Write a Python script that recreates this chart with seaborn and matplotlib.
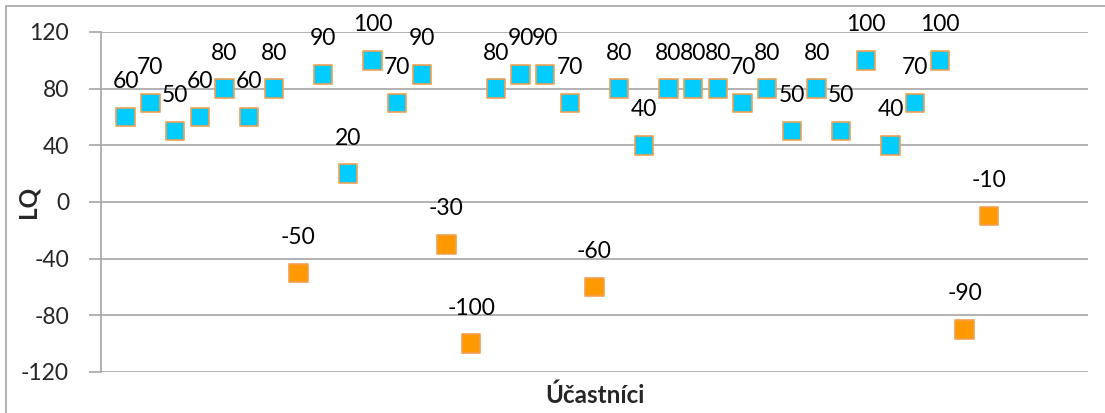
import numpy as np
import pandas as pd
import matplotlib
matplotlib.use("Agg")
import matplotlib.pyplot as plt
import seaborn as sns

# LQ score for each participant
participants = list(range(1, 37))
lq_values = [60, 70, 50, 60, 80, 60, 80, -50, 90, 20, 100, 70, 90, -30, -100,
             80, 90, 90, 70, -60, 80, 40, 80, 80, 80, 70, 80, 50, 80, 50,
             100, 40, 70, 100, -90, -10]
y_ticks = [-120, -80, -40, 0, 40, 80, 120]

df = pd.DataFrame({"participant": participants, "LQ": lq_values})
df["side"] = np.where(df["LQ"] >= 0, "pos", "neg")

sns.set_style("white")
plt.rcParams["font.family"] = ["Lato", "DejaVu Sans"]

fig = plt.figure(figsize=(11.05, 4.13), dpi=100)
ax = fig.add_axes([101 / 1105, 1 - 372 / 413, (1088 - 101) / 1105, (372 - 32) / 413])

sns.scatterplot(data=df, x="participant", y="LQ", hue="side",
                palette={"pos": "#00CCFF", "neg": "#FF9900"},
                marker="s", s=175, edgecolor="#F0A050", linewidth=1.2,
                legend=False, ax=ax, zorder=3)

# data labels above each marker
for xv, yv in zip(df["participant"], df["LQ"]):
    ax.annotate(str(yv), (xv, yv), xytext=(0, 18), textcoords="offset points",
                ha="center", va="bottom", fontsize=16.5, color="black")

ax.set_xlim(0, 40)
ax.set_ylim(-120, 120)
ax.set_yticks(y_ticks)
ax.set_yticklabels([str(t) for t in y_ticks], fontsize=16.5)
ax.set_xticks([])
ax.grid(axis="y", color="#A6A6A6", linewidth=1.2)
ax.set_axisbelow(True)
for side in ["top", "right", "bottom"]:
    ax.spines[side].set_visible(False)
ax.spines["left"].set_color("#A6A6A6")
ax.spines["left"].set_linewidth(1.2)
ax.tick_params(axis="y", length=9, width=1.2, color="#A6A6A6", pad=14, left=True)

ax.set_xlabel("Účastníci", fontsize=17.5, fontweight="bold")
ax.set_ylabel("LQ", fontsize=17.5, fontweight="bold")
ax.xaxis.set_label_coords(0.5, -0.035)
ax.yaxis.set_label_coords(-0.062, 0.5)

# outer chart frame (top and left edges visible)
fig.add_artist(plt.Line2D([6 / 1105, 1], [1 - 6 / 413, 1 - 6 / 413], color="#A6A6A6", lw=1.2))
fig.add_artist(plt.Line2D([6 / 1105, 6 / 1105], [0, 1 - 6 / 413], color="#A6A6A6", lw=1.2))

fig.savefig("out.png", dpi=100)
